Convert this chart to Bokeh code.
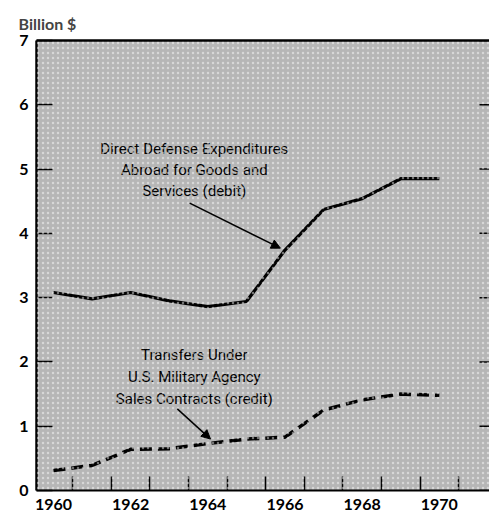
import math
from bokeh.plotting import figure
from bokeh.models import FixedTicker, Range1d, LinearAxis, Arrow, NormalHead, BoxAnnotation
from bokeh.core.properties import value
from bokeh.embed import file_html
from bokeh.resources import INLINE

years = [1960, 1961, 1962, 1963, 1964, 1965, 1966, 1967, 1968, 1969, 1970]
defense = [3.08, 2.98, 3.08, 2.95, 2.86, 2.94, 3.74, 4.37, 4.54, 4.85, 4.85]
transfers = [0.31, 0.39, 0.64, 0.65, 0.73, 0.80, 0.83, 1.25, 1.41, 1.50, 1.48]

year_labels = [1960, 1962, 1964, 1966, 1968, 1970]
year_marks = [1960.5, 1961.5, 1962.5, 1963.5, 1964.5, 1965.5, 1966.5, 1967.5, 1968.5, 1969.5, 1970.5]
value_ticks = [0, 1, 2, 3, 4, 5, 6, 7]

note1_text = ["Direct Defense Expenditures", "Abroad for Goods and", "Services (debit)"]
note1_x = [1963.65, 1963.65, 1963.65]
note1_y = [5.31, 4.98, 4.66]
note2_text = ["Transfers Under", "U.S. Military Agency", "Sales Contracts (credit)"]
note2_x = [1963.65, 1963.65, 1963.65]
note2_y = [2.11, 1.77, 1.42]

arrow1 = dict(x_start=1963.53, y_start=4.47, x_end=1965.88, y_end=3.77)
arrow2 = dict(x_start=1963.21, y_start=1.27, x_end=1964.07, y_end=0.80)

X_START, X_END = 1959.56, 1971.3

BOLD = "Lato"
NARROW = "Roboto"

p = figure(width=489, height=512, output_backend="svg", toolbar_location=None,
           x_range=Range1d(X_START, X_END), y_range=Range1d(0, 7),
           min_border_left=36, min_border_right=0, min_border_top=40, min_border_bottom=22)

p.background_fill_color = "#b6b6b6"
p.border_fill_color = "white"
p.outline_line_color = None
p.grid.visible = False

p.add_layout(BoxAnnotation(fill_alpha=0, line_alpha=0, hatch_pattern="dot",
                           hatch_color="white", hatch_alpha=0.45, hatch_scale=5))

p.title.text = "Billion $"
p.title.align = "left"
p.title.offset = -18
p.title.text_font = BOLD
p.title.text_font_style = "bold"
p.title.text_font_size = "16px"
p.title.standoff = 15

xa = p.below[0]
xa.ticker = FixedTicker(ticks=year_labels, minor_ticks=year_marks)
xa.major_tick_in = 0
xa.major_tick_out = 0
xa.minor_tick_in = 14
xa.minor_tick_out = 0
xa.minor_tick_line_color = "black"
xa.minor_tick_line_width = 1.5
xa.axis_line_width = 2
xa.major_label_standoff = 8
xa.major_label_text_font = BOLD
xa.major_label_text_font_style = "bold"
xa.major_label_text_font_size = "16px"
xa.major_label_text_color = "black"

ya = p.left[0]
ya.ticker = FixedTicker(ticks=value_ticks)
ya.major_tick_in = 16
ya.major_tick_out = 0
ya.minor_tick_line_color = None
ya.major_tick_line_width = 1.5
ya.axis_line_width = 2.5
ya.major_label_standoff = 8
ya.major_label_text_font = BOLD
ya.major_label_text_font_style = "bold"
ya.major_label_text_font_size = "16px"
ya.major_label_text_color = "black"

top_axis = LinearAxis(ticker=FixedTicker(ticks=[]), axis_line_width=2.5,
                      major_tick_in=0, major_tick_out=0, minor_tick_line_color=None,
                      major_label_standoff=0)
p.add_layout(top_axis, "above")

# inward tick marks on the right-hand edge
p.ray(x=[X_END] * len(value_ticks), y=value_ticks, length=10, length_units="screen",
      angle=math.pi, line_color="black", line_width=1.5)

p.line(years, defense, line_color="black", line_width=3.2, line_join="round")
p.line(years, transfers, line_color="black", line_width=3.5, line_dash="12 6")

for tx, ty, tt in ((note1_x, note1_y, note1_text), (note2_x, note2_y, note2_text)):
    p.text(x=tx, y=ty, text=tt, text_align="center", text_baseline="middle",
           text_font=value(NARROW), text_font_size="15px", text_color="black")

for a in (arrow1, arrow2):
    p.add_layout(Arrow(end=NormalHead(size=9, fill_color="black", line_color="black"),
                       line_color="black", line_width=1.5, **a))

open("out.html", "w").write(file_html(p, INLINE))
